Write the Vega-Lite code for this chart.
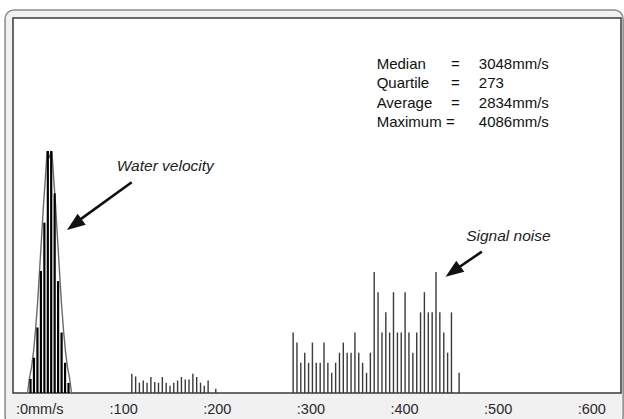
{
  "$schema": "https://vega.github.io/schema/vega-lite/v6.json",
  "width": 608,
  "height": 375,
  "autosize": {"type": "none"},
  "padding": {"left": 13, "top": 18, "right": 3, "bottom": 26},
  "background": "white",
  "config": {"view": {"stroke": null}, "font": "Liberation Sans"},
  "datasets": {
    "frame": [{"v": -11.1, "v2": 649.1, "h": -3.2, "h2": 38.0}],
    "plot": [{"v": -2.6, "v2": 646.8, "h": 0, "h2": 37.2}],
    "small": [
      {"v": 124.3, "h": 1.91}, {"v": 128.4, "h": 1.64}, {"v": 132.4, "h": 1.02}, {"v": 136.5, "h": 1.24},
      {"v": 140.6, "h": 1.02}, {"v": 144.7, "h": 1.59}, {"v": 148.8, "h": 1.09}, {"v": 152.8, "h": 1.02},
      {"v": 156.9, "h": 1.59}, {"v": 161.0, "h": 1.02}, {"v": 165.1, "h": 0.72}, {"v": 169.1, "h": 1.02},
      {"v": 173.2, "h": 1.24}, {"v": 177.3, "h": 1.59}, {"v": 181.4, "h": 1.34}, {"v": 185.4, "h": 1.34},
      {"v": 189.5, "h": 1.91}, {"v": 193.6, "h": 1.59}, {"v": 197.7, "h": 1.02}, {"v": 201.7, "h": 0.72},
      {"v": 205.8, "h": 1.24}, {"v": 214.0, "h": 0.43}
    ],
    "noise": [
      {"v": 296.6, "h": 6}, {"v": 300.7, "h": 5}, {"v": 304.8, "h": 3}, {"v": 309.0, "h": 4},
      {"v": 313.1, "h": 3}, {"v": 317.2, "h": 5}, {"v": 321.3, "h": 3}, {"v": 325.5, "h": 3},
      {"v": 329.6, "h": 5}, {"v": 333.7, "h": 3}, {"v": 337.8, "h": 2}, {"v": 342.0, "h": 3},
      {"v": 346.1, "h": 4}, {"v": 350.2, "h": 5}, {"v": 354.3, "h": 4}, {"v": 358.5, "h": 4},
      {"v": 362.6, "h": 6}, {"v": 366.7, "h": 4}, {"v": 370.8, "h": 3}, {"v": 375.0, "h": 2},
      {"v": 379.1, "h": 4}, {"v": 383.2, "h": 12}, {"v": 387.3, "h": 10}, {"v": 391.5, "h": 6},
      {"v": 395.6, "h": 8}, {"v": 399.7, "h": 6}, {"v": 403.8, "h": 10}, {"v": 408.0, "h": 6},
      {"v": 412.1, "h": 6}, {"v": 416.2, "h": 10}, {"v": 420.3, "h": 6}, {"v": 424.5, "h": 4},
      {"v": 428.6, "h": 6}, {"v": 432.7, "h": 8}, {"v": 436.8, "h": 10}, {"v": 441.0, "h": 8},
      {"v": 445.1, "h": 8}, {"v": 449.2, "h": 12}, {"v": 453.3, "h": 8}, {"v": 457.5, "h": 6},
      {"v": 461.6, "h": 4}, {"v": 465.7, "h": 8}, {"v": 473.9, "h": 2}
    ],
    "envelope": [
      {"v": 12.9, "h": 0}, {"v": 15.0, "h": 1.5}, {"v": 17.2, "h": 2.55}, {"v": 19.3, "h": 4.08},
      {"v": 21.4, "h": 6.18}, {"v": 23.6, "h": 8.86}, {"v": 25.7, "h": 12.0}, {"v": 27.9, "h": 15.4},
      {"v": 30.0, "h": 18.7}, {"v": 32.1, "h": 21.5}, {"v": 33.8, "h": 24.0}, {"v": 36.4, "h": 23.4},
      {"v": 38.9, "h": 24.0}, {"v": 40.7, "h": 21.5}, {"v": 42.8, "h": 18.7}, {"v": 44.9, "h": 15.4},
      {"v": 47.1, "h": 12.0}, {"v": 49.2, "h": 8.86}, {"v": 51.4, "h": 6.18}, {"v": 53.5, "h": 4.08},
      {"v": 55.6, "h": 2.55}, {"v": 57.8, "h": 1.5}, {"v": 59.9, "h": 0}
    ],
    "peak": [
      {"v": 16.1, "h": 1.4}, {"v": 19.8, "h": 3.5}, {"v": 23.5, "h": 6.5}, {"v": 27.2, "h": 12.1},
      {"v": 30.9, "h": 16.9}, {"v": 34.6, "h": 24.0}, {"v": 38.2, "h": 24.0}, {"v": 41.9, "h": 19.8},
      {"v": 45.6, "h": 11.1}, {"v": 49.3, "h": 6.0}, {"v": 53.0, "h": 3.0}, {"v": 56.7, "h": 1.0}
    ],
    "stats": [
      {"v": 385.8, "h": 32.11, "t": "Median"}, {"v": 385.8, "h": 30.22, "t": "Quartile"},
      {"v": 385.8, "h": 28.32, "t": "Average"}, {"v": 385.8, "h": 26.43, "t": "Maximum"},
      {"v": 465.2, "h": 32.11, "t": "="}, {"v": 465.2, "h": 30.22, "t": "="},
      {"v": 465.2, "h": 28.32, "t": "="}, {"v": 459.8, "h": 26.43, "t": "="},
      {"v": 494.9, "h": 32.11, "t": "3048mm/s"}, {"v": 494.9, "h": 30.22, "t": "273"},
      {"v": 494.9, "h": 28.32, "t": "2834mm/s"}, {"v": 494.9, "h": 26.43, "t": "4086mm/s"}
    ],
    "notes": [
      {"v": 108.2, "h": 22.05, "t": "Water velocity"},
      {"v": 481.4, "h": 15.08, "t": "Signal noise"}
    ],
    "arrows": [
      {"v": 124.2, "h": 20.9, "v2": 67.5, "h2": 17.1},
      {"v": 498.2, "h": 14.02, "v2": 471.0, "h2": 12.3}
    ],
    "heads": [
      {"v": 62.9, "h": 16.7},
      {"v": 467.3, "h": 12.05}
    ]
  },
  "encoding": {
    "x": {
      "field": "v", "type": "quantitative",
      "scale": {"domain": [-2.6, 646.8], "nice": false, "zero": false},
      "axis": {
        "values": [0, 100, 200, 300, 400, 500, 600],
        "labelExpr": "datum.value == 0 ? ':0mm/s' : ':' + datum.value",
        "labelAlign": "left", "labelBaseline": "alphabetic", "labelPadding": 20,
        "ticks": false, "domain": false, "grid": false, "title": null,
        "labelFontSize": 14.5, "labelColor": "#2a2a2a", "labelFont": "Liberation Sans",
        "labelFlush": false, "labelOverlap": false, "zindex": 1
      }
    },
    "y": {
      "field": "h", "type": "quantitative",
      "scale": {"domain": [0, 37.2], "nice": false, "zero": false},
      "axis": null
    }
  },
  "layer": [
    {
      "data": {"name": "frame"},
      "mark": {"type": "rect", "fill": "#f1f1f1", "stroke": "#8a8a8a", "strokeWidth": 1.5, "cornerRadius": 9, "clip": false},
      "encoding": {"x2": {"field": "v2"}, "y2": {"field": "h2"}}
    },
    {
      "data": {"name": "plot"},
      "mark": {"type": "rect", "fill": "white", "stroke": "#3a3a3a", "strokeWidth": 1.5, "clip": false},
      "encoding": {"x2": {"field": "v2"}, "y2": {"field": "h2"}}
    },
    {
      "data": {"name": "small"},
      "mark": {"type": "rule", "stroke": "#3a3a3a", "strokeWidth": 1.4},
      "encoding": {"y2": {"datum": 0}}
    },
    {
      "data": {"name": "noise"},
      "mark": {"type": "rule", "stroke": "#3a3a3a", "strokeWidth": 1.4},
      "encoding": {"y2": {"datum": 0}}
    },
    {
      "data": {"name": "envelope"},
      "mark": {"type": "line", "stroke": "#6a6a6a", "strokeWidth": 1.4},
      "encoding": {}
    },
    {
      "data": {"name": "peak"},
      "mark": {"type": "rule", "stroke": "#000", "strokeWidth": 2.2},
      "encoding": {"y2": {"datum": 0}}
    },
    {
      "data": {"name": "stats"},
      "mark": {"type": "text", "align": "left", "baseline": "alphabetic", "fontSize": 15, "color": "#111", "font": "Liberation Sans"},
      "encoding": {"text": {"field": "t"}}
    },
    {
      "data": {"name": "notes"},
      "mark": {"type": "text", "align": "left", "baseline": "alphabetic", "fontSize": 15.5, "fontStyle": "italic", "color": "#222", "font": "Liberation Sans"},
      "encoding": {"text": {"field": "t"}}
    },
    {
      "data": {"name": "arrows"},
      "mark": {"type": "rule", "stroke": "#111", "strokeWidth": 2.6},
      "encoding": {"x2": {"field": "v2"}, "y2": {"field": "h2"}}
    },
    {
      "data": {"name": "heads"},
      "mark": {"type": "point", "shape": "M0,-1L0.75,1L-0.75,1Z", "size": 330, "filled": true, "color": "#111", "opacity": 1, "angle": 234, "strokeWidth": 0},
      "encoding": {}
    }
  ]
}
